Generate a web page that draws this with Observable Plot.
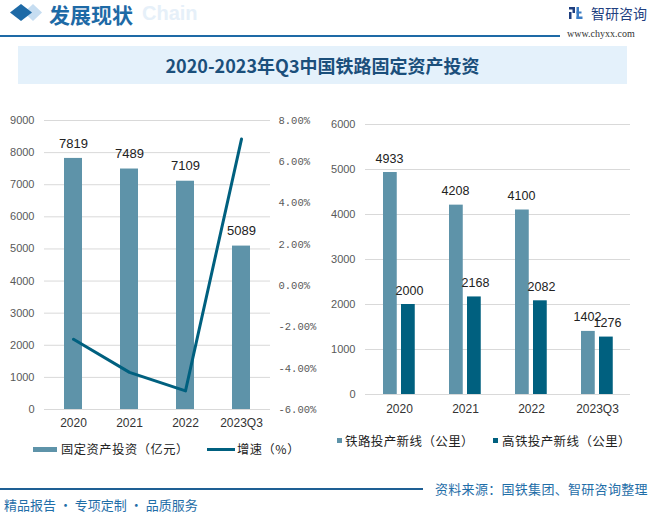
<!DOCTYPE html>
<html>
<head>
<meta charset="utf-8">
<script src="https://cdn.jsdelivr.net/npm/d3@7"></script>
<script src="https://cdn.jsdelivr.net/npm/@observablehq/plot@0.6"></script>
<style>
  html, body { margin: 0; padding: 0; background: #fff; }
  #root { position: relative; width: 652px; height: 517px; overflow: hidden; background: #fff;
          font-family: "Noto Sans CJK SC", "Noto Sans", sans-serif; }
  .abs { position: absolute; white-space: nowrap; }
  #left svg [aria-label^="x-axis"] text, #right svg [aria-label^="x-axis"] text {
    font-family: "Liberation Sans", Arial, sans-serif; font-size: 12px; fill: #333;
  }
  #left svg [aria-label^="y-axis"] text, #right svg [aria-label^="y-axis"] text {
    font-family: "Liberation Sans", Arial, sans-serif; font-size: 11px; fill: #595959;
  }
</style>
</head>
<body>
<div id="root">
  <!-- header -->
  <svg class="abs" style="left:0;top:0" width="60" height="30">
    <polygon points="24,12.5 33,4 42,12.5 33,21" fill="#c6ddf1"/>
    <polygon points="10,12.5 21,4 32,12.5 21,21" fill="#1e6aa6"/>
  </svg>
  <div class="abs" style="left:142px;top:2px;font:bold 20px 'Liberation Sans',Arial,sans-serif;color:#e6f0f9;">Chain</div>
  <div class="abs" style="left:49px;top:0px;font-size:21px;font-weight:bold;color:#1e6aa6;line-height:28px;">发展现状</div>
  <div class="abs" style="left:0;top:35px;width:560px;height:1.5px;background:#1e6aa6;"></div>
  <svg class="abs" style="left:568px;top:6px" width="16" height="14">
    <rect x="1" y="1" width="6" height="2.5" fill="#1f3f7f"/>
    <rect x="4.5" y="1" width="2.5" height="6" fill="#1f3f7f"/>
    <rect x="1" y="6" width="2.5" height="7" fill="#1f3f7f"/>
    <rect x="8.5" y="1" width="2.5" height="12" fill="#3a7cc4"/>
    <rect x="8.5" y="10.5" width="6" height="2.5" fill="#3a7cc4"/>
    <rect x="8.5" y="5.5" width="5" height="2" fill="#3a7cc4"/>
  </svg>
  <div class="abs" style="left:591px;top:3px;font-size:14px;color:#1f3f7f;line-height:20px;">智研咨询</div>
  <div class="abs" style="left:567px;top:27px;font:10px 'Liberation Serif','DejaVu Serif',serif;color:#333;line-height:14px;">www.chyxx.com</div>

  <!-- title band -->
  <div class="abs" style="left:18px;top:46px;width:609px;height:38px;background:#e4f1fb;"></div>
  <div class="abs" style="left:18px;top:46px;width:609px;height:38px;line-height:38px;text-align:center;font-size:18px;font-weight:bold;color:#1b4f7b;">2020-2023年Q3中国铁路固定资产投资</div>

  <div id="left" class="abs" style="left:0;top:105px"></div>
  <div id="right" class="abs" style="left:320px;top:105px"></div>

  <!-- legends -->
  <div class="abs" style="left:33px;top:447px;width:24px;height:5px;background:#5e93a9;"></div>
  <div class="abs" style="left:61px;top:440px;font-size:12.2px;letter-spacing:0.6px;color:#222;line-height:18px;">固定资产投资（亿元）</div>
  <div class="abs" style="left:207px;top:448px;width:28px;height:3px;background:#00607f;"></div>
  <div class="abs" style="left:237px;top:440px;font-size:12.2px;letter-spacing:0.6px;color:#222;line-height:18px;">增速（%）</div>

  <div class="abs" style="left:337px;top:438px;width:5px;height:5px;background:#5e93a9;"></div>
  <div class="abs" style="left:345px;top:432px;font-size:12.5px;letter-spacing:0.4px;color:#222;line-height:18px;">铁路投产新线（公里）</div>
  <div class="abs" style="left:493px;top:438px;width:5px;height:5px;background:#00607f;"></div>
  <div class="abs" style="left:502px;top:432px;font-size:12.5px;letter-spacing:0.4px;color:#222;line-height:18px;">高铁投产新线（公里）</div>

  <!-- footer -->
  <div class="abs" style="left:0;top:488px;width:423px;height:1.5px;background:#1e5f94;"></div>
  <div class="abs" style="left:435px;top:480px;font-size:13px;letter-spacing:0.3px;color:#1f6ea8;line-height:18px;">资料来源：国铁集团、智研咨询整理</div>
  <div class="abs" style="left:4px;top:496px;font-size:13px;color:#1f6ea8;line-height:18px;">精品报告 · 专项定制 · 品质服务</div>
</div>
<script>
const years = ["2020", "2021", "2022", "2023Q3"];
const investment = [7819, 7489, 7109, 5089];          // 固定资产投资（亿元）
const growth = [-2.6, -4.2, -5.1, 7.1];               // 增速（%）
const investTicks = [0, 1000, 2000, 3000, 4000, 5000, 6000, 7000, 8000, 9000];
const growthTicks = [-6, -4, -2, 0, 2, 4, 6, 8];
const railKm = [4933, 4208, 4100, 1402];              // 铁路投产新线（公里）
const hsrKm = [2000, 2168, 2082, 1276];               // 高铁投产新线（公里）
const kmTicks = [0, 1000, 2000, 3000, 4000, 5000, 6000];

const C_LIGHT = "#5e93a9", C_DARK = "#00607f";

const leftData = years.map((y, i) => ({year: y, inv: investment[i], g: growth[i]}));
const rightData = years.map((y, i) => ({year: y, rail: railKm[i], hsr: hsrKm[i]}));

// secondary axis mapping growth (%) onto the investment scale
const g2v = d3.scaleLinear([growthTicks[0], growthTicks[growthTicks.length - 1]],
                           [investTicks[0], investTicks[investTicks.length - 1]]);

const left = Plot.plot({
  width: 330, height: 340,
  marginTop: 15, marginBottom: 36, marginLeft: 44, marginRight: 60,
  style: {background: "transparent", fontFamily: "Liberation Sans, Arial, sans-serif", color: "#333"},
  x: {domain: years, paddingInner: 0.68, paddingOuter: 0.34, label: null, tickSize: 0, tickPadding: 9},
  y: {domain: [0, 9000], ticks: investTicks, tickFormat: d => String(d), label: null, tickSize: 0, tickPadding: 10},
  marks: [
    Plot.ruleY(investTicks, {stroke: "#d9d9d9", strokeWidth: 1}),
    Plot.barY(leftData, {x: "year", y: "inv", fill: C_LIGHT}),
    Plot.text(leftData, {x: "year", y: "inv", text: d => String(d.inv), dy: -15,
      fontSize: 13, fill: "#222", fontFamily: "Liberation Sans, Arial, sans-serif"}),
    Plot.line(leftData, {x: "year", y: d => g2v(d.g), stroke: C_DARK, strokeWidth: 3}),
    Plot.text(growthTicks, {y: d => g2v(d), frameAnchor: "right", textAnchor: "start", dx: 8,
      text: d => d.toFixed(2) + "%", fill: "#595959", fontSize: 10.5,
      fontFamily: "Liberation Mono, DejaVu Sans Mono, monospace"})
  ]
});
document.getElementById("left").appendChild(left);

const right = Plot.plot({
  width: 332, height: 325,
  marginTop: 19, marginBottom: 36, marginLeft: 45, marginRight: 22,
  style: {background: "transparent", fontFamily: "Liberation Sans, Arial, sans-serif", color: "#333"},
  x: {domain: years, padding: 0, label: null, tickSize: 0, tickPadding: 10},
  y: {domain: [0, 6000], ticks: kmTicks, tickFormat: d => String(d), label: null, tickSize: 0, tickPadding: 10},
  marks: [
    Plot.ruleY(kmTicks, {stroke: "#d9d9d9", strokeWidth: 1}),
    Plot.barY(rightData, {x: "year", y: "rail", fill: C_LIGHT, insetLeft: 17, insetRight: 35.25}),
    Plot.barY(rightData, {x: "year", y: "hsr", fill: C_DARK, insetLeft: 35, insetRight: 17.25}),
    Plot.text(rightData, {x: "year", y: "rail", text: d => String(d.rail), dx: -10, dy: -14,
      fontSize: 12.5, fill: "#222"}),
    Plot.text(rightData, {x: "year", y: "hsr", text: d => String(d.hsr), dx: 10, dy: -14,
      fontSize: 12.5, fill: "#222"})
  ]
});
document.getElementById("right").appendChild(right);
</script>
</body>
</html>
